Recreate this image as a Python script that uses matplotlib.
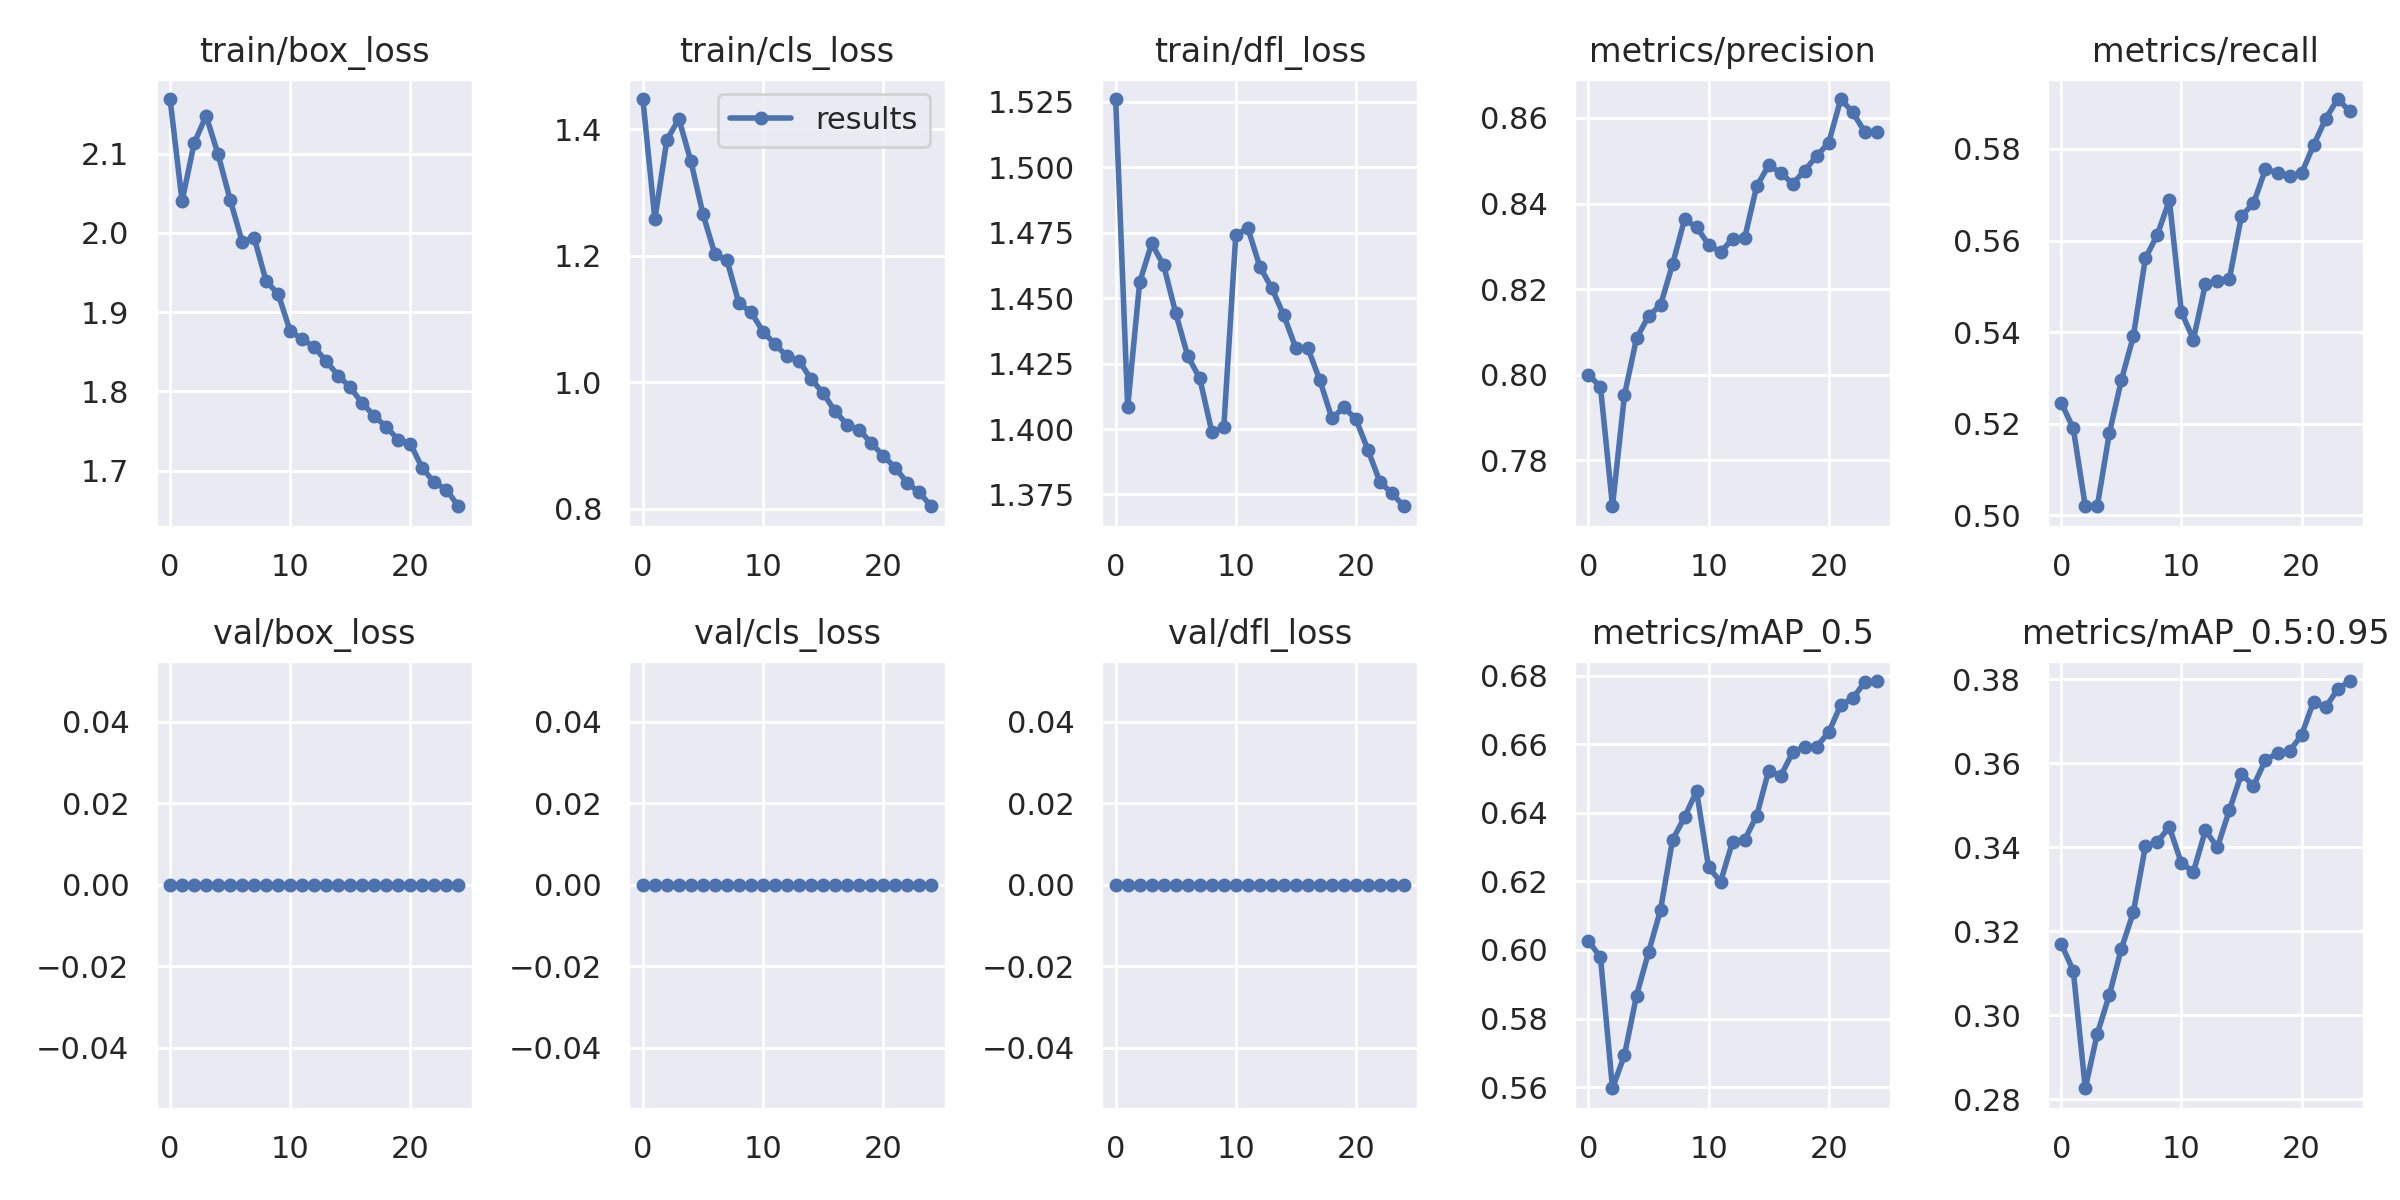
import numpy as np
import matplotlib
matplotlib.use("Agg")
import matplotlib.pyplot as plt
import seaborn as sns

sns.set_theme()
plt.rcParams['font.family'] = ['DejaVu Sans']

epochs = list(range(25))

titles = ["train/box_loss", "train/cls_loss", "train/dfl_loss", "metrics/precision", "metrics/recall",
          "val/box_loss", "val/cls_loss", "val/dfl_loss", "metrics/mAP_0.5", "metrics/mAP_0.5:0.95"]

train_box_loss = [2.169, 2.040, 2.113, 2.148, 2.099, 2.042, 1.989, 1.994, 1.939, 1.923,
                  1.876, 1.866, 1.856, 1.838, 1.820, 1.805, 1.785, 1.769, 1.755, 1.739,
                  1.734, 1.703, 1.685, 1.676, 1.655]
train_cls_loss = [1.4475, 1.2575, 1.383, 1.416, 1.349, 1.266, 1.202, 1.193, 1.1245, 1.111,
                  1.080, 1.060, 1.041, 1.034, 1.005, 0.983, 0.954, 0.933, 0.925, 0.904,
                  0.884, 0.865, 0.841, 0.826, 0.804]
train_dfl_loss = [1.5261, 1.4083, 1.4561, 1.4709, 1.4625, 1.4443, 1.4279, 1.4194, 1.3990, 1.4006,
                  1.4741, 1.4768, 1.4621, 1.4538, 1.4434, 1.4309, 1.4309, 1.4186, 1.4041, 1.4083,
                  1.4038, 1.3920, 1.3798, 1.3754, 1.3705]
precision = [0.8000, 0.7972, 0.7693, 0.7953, 0.8085, 0.8137, 0.8163, 0.8258, 0.8363, 0.8345,
             0.8304, 0.8286, 0.8318, 0.8319, 0.8440, 0.8489, 0.8472, 0.8446, 0.8477, 0.8511,
             0.8542, 0.8644, 0.8613, 0.8567, 0.8567]
recall = [0.5246, 0.5190, 0.5020, 0.5020, 0.5179, 0.5295, 0.5391, 0.5561, 0.5613, 0.5688,
          0.5444, 0.5384, 0.5505, 0.5512, 0.5517, 0.5654, 0.5681, 0.5756, 0.5748, 0.5741,
          0.5747, 0.5808, 0.5865, 0.5909, 0.5883]
val_box_loss = [0.0] * 25
val_cls_loss = [0.0] * 25
val_dfl_loss = [0.0] * 25
map50 = [0.6026, 0.5979, 0.5597, 0.5694, 0.5867, 0.5993, 0.6117, 0.6321, 0.6387, 0.6463,
         0.6241, 0.6199, 0.6316, 0.6321, 0.6391, 0.6523, 0.6507, 0.6576, 0.6593, 0.6593,
         0.6635, 0.6714, 0.6734, 0.6780, 0.6784]
map50_95 = [0.3170, 0.3106, 0.2826, 0.2956, 0.3048, 0.3158, 0.3245, 0.3402, 0.3413, 0.3448,
            0.3362, 0.3342, 0.3440, 0.3400, 0.3489, 0.3575, 0.3546, 0.3608, 0.3624, 0.3629,
            0.3667, 0.3747, 0.3733, 0.3776, 0.3796]

series = [train_box_loss, train_cls_loss, train_dfl_loss, precision, recall,
          val_box_loss, val_cls_loss, val_dfl_loss, map50, map50_95]

fig, axes = plt.subplots(2, 5, figsize=(12, 6), tight_layout=True)
axes = axes.ravel()
for i, (ax, t, y) in enumerate(zip(axes, titles, series)):
    ax.plot(epochs, y, marker='.', label='results', linewidth=2, markersize=8)
    ax.set_title(t, fontsize=12)
axes[1].legend()
fig.savefig("out.png", dpi=200)
